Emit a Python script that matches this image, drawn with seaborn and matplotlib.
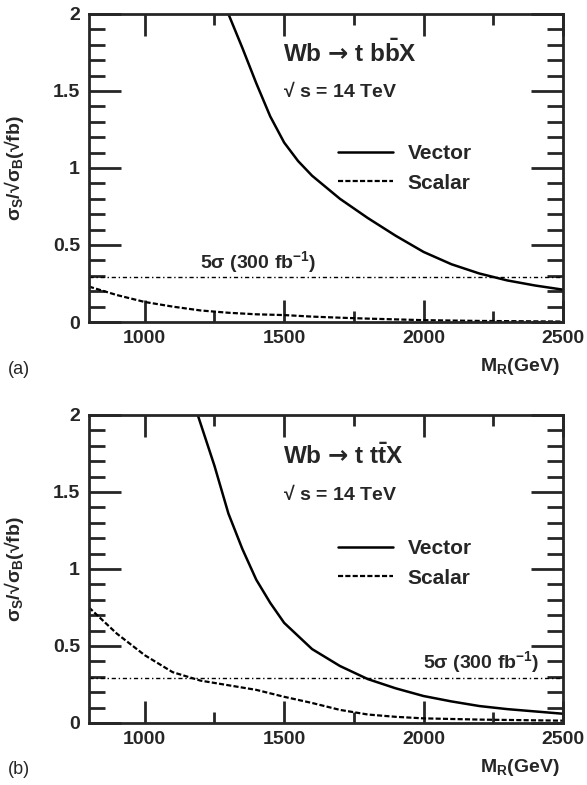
import numpy as np
import pandas as pd
import seaborn as sns
import matplotlib.pyplot as plt
from matplotlib.ticker import MultipleLocator, FuncFormatter

# ========= Data =========
# (a) Wb -> t b bbar X
vec_a_m = [1300, 1350, 1400, 1450, 1500, 1550, 1600, 1700, 1800, 1900, 2000, 2100, 2200, 2300, 2400, 2500]
vec_a_y = [2.0, 1.78, 1.55, 1.335, 1.165, 1.045, 0.95, 0.80, 0.675, 0.56, 0.455, 0.375, 0.315, 0.27, 0.237, 0.21]
sca_a_m = [800, 900, 1000, 1100, 1200, 1300, 1400, 1500, 1600, 1700, 1800, 2000, 2200, 2500]
sca_a_y = [0.23, 0.175, 0.13, 0.10, 0.075, 0.06, 0.05, 0.045, 0.035, 0.028, 0.022, 0.012, 0.007, 0.003]

# (b) Wb -> t t tbar X
vec_b_m = [1190, 1250, 1300, 1350, 1400, 1450, 1500, 1600, 1700, 1800, 1900, 2000, 2100, 2200, 2300, 2400, 2500]
vec_b_y = [2.0, 1.67, 1.36, 1.13, 0.93, 0.78, 0.65, 0.48, 0.37, 0.285, 0.225, 0.175, 0.14, 0.11, 0.09, 0.075, 0.06]
sca_b_m = [800, 900, 1000, 1100, 1200, 1300, 1400, 1500, 1600, 1700, 1800, 1900, 2000, 2200, 2500]
sca_b_y = [0.75, 0.58, 0.44, 0.33, 0.275, 0.245, 0.215, 0.17, 0.13, 0.085, 0.055, 0.04, 0.03, 0.022, 0.015]

sigma5 = 0.289  # 5 sigma reach, 300 fb^-1

panels = [
    ("(a)", "Wb $\\mathsf{\u2192}$ t b$\\bar{\\mathbf{b}}$X", vec_a_m, vec_a_y, sca_a_m, sca_a_y),
    ("(b)", "Wb $\\mathsf{\u2192}$ t t$\\bar{\\mathbf{t}}$X", vec_b_m, vec_b_y, sca_b_m, sca_b_y),
]

# ========= Style =========
sns.set_style("ticks")
plt.rcParams["font.family"] = ["Liberation Sans", "DejaVu Sans"]
plt.rcParams["font.weight"] = "bold"
plt.rcParams["mathtext.fontset"] = "custom"
plt.rcParams["mathtext.rm"] = "Liberation Sans"
plt.rcParams["mathtext.it"] = "Liberation Sans"
plt.rcParams["mathtext.bf"] = "Liberation Sans:bold"
plt.rcParams["mathtext.sf"] = "DejaVu Sans"

fig = plt.figure(figsize=(5.87, 7.85), dpi=100)
ax_a = fig.add_axes([0.1516, 0.5898, 0.8075, 0.3924])
ax_b = fig.add_axes([0.1516, 0.0790, 0.8075, 0.3924])

layout = {
    "(a)": dict(title_y=0.873, rs_y=0.75, leg_y=0.577, sig_x=0.234, sig_y=0.195, tag_y=1 - 370 / 785),
    "(b)": dict(title_y=0.864, rs_y=0.744, leg_y=0.597, sig_x=0.705, sig_y=0.198, tag_y=1 - 770 / 785),
}

for ax, (tag, title, vm, vy, sm, sy) in zip([ax_a, ax_b], panels):
    lay = layout[tag]
    sns.lineplot(x=vm, y=vy, ax=ax, color="k", lw=1.8, label="Vector")
    sns.lineplot(x=sm, y=sy, ax=ax, color="k", lw=1.6,
                 linestyle=(0, (2.3, 1.0)), label="Scalar")
    ax.axhline(sigma5, color="k", lw=1.0, linestyle=(0, (3, 2, 1, 2)))

    ax.set_xlim(800, 2500)
    ax.set_ylim(0, 2)
    ax.xaxis.set_major_locator(MultipleLocator(500))
    ax.xaxis.set_minor_locator(MultipleLocator(250))
    ax.yaxis.set_major_locator(MultipleLocator(0.5))
    ax.yaxis.set_minor_locator(MultipleLocator(0.1))
    ax.yaxis.set_major_formatter(FuncFormatter(lambda v, p: f"{v:g}"))

    ax.tick_params(axis="both", which="both", direction="in", top=True, right=True,
                   width=2, labelsize=14)
    ax.tick_params(axis="y", which="major", length=23, pad=6.5)
    ax.tick_params(axis="y", which="minor", length=11.5)
    ax.tick_params(axis="x", which="major", length=15.5, pad=5.8)
    ax.tick_params(axis="x", which="minor", length=8)
    for s in ax.spines.values():
        s.set_linewidth(2)
        s.set_visible(True)

    ax.set_ylabel("$\\sigma_\\mathbf{S}$/$\u221a\\sigma_\\mathbf{B}$($\u221a$fb)",
                  fontsize=14, fontweight="bold")
    ax.yaxis.set_label_coords(-0.133, 0.5)
    ax.set_xlabel(r"M$_\mathbf{R}$(GeV)", fontsize=14, fontweight="bold", loc="right")
    ax.xaxis.set_label_coords(0.994, -0.11)

    ax.text(0.409, lay["title_y"], title, transform=ax.transAxes, fontsize=17.5,
            fontweight="bold", va="center", ha="left")
    ax.text(0.409, lay["rs_y"], "$\u221a$ s = 14 TeV", transform=ax.transAxes,
            fontsize=14, fontweight="bold", va="center", ha="left")
    ax.text(lay["sig_x"], lay["sig_y"], r"5$\sigma$ (300 fb$^\mathbf{-1}$)",
            transform=ax.transAxes, fontsize=14, fontweight="bold", va="center", ha="left")

    ax.legend(loc="upper left", bbox_to_anchor=(0.525, lay["leg_y"]), frameon=False,
              fontsize=15, handlelength=2.64, handletextpad=0.72, labelspacing=0.5,
              borderpad=0, borderaxespad=0)

    fig.text(8 / 587, lay["tag_y"], tag, fontsize=13, fontweight="normal", va="center")

fig.savefig("out.png", dpi=100)
